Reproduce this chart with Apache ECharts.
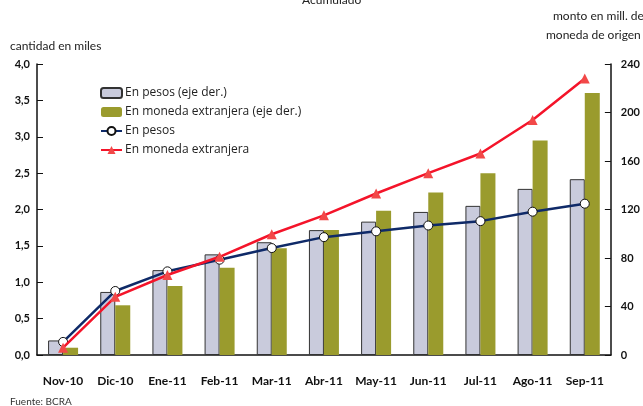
<!DOCTYPE html>
<html>
<head>
<meta charset="utf-8">
<script src="https://cdn.jsdelivr.net/npm/echarts@6/dist/echarts.min.js"></script>
<style>
  html, body { margin: 0; padding: 0; background: #fff; }
  #chart { width: 643px; height: 406px; }
</style>
</head>
<body>
<div id="chart"></div>
<script>
// meses
var categories = ['Nov-10', 'Dic-10', 'Ene-11', 'Feb-11', 'Mar-11', 'Abr-11', 'May-11', 'Jun-11', 'Jul-11', 'Ago-11', 'Sep-11'];

// barras, eje derecho (monto en mill.)
var montoPesos = [12, 52, 70, 83, 93, 103, 110, 118, 123, 137, 145];
var montoExtranjera = [6, 41, 57, 72, 88, 103, 119, 134, 150, 177, 216];

// lineas, eje izquierdo (cantidad en miles)
var cantPesos = [0.18, 0.88, 1.15, 1.31, 1.47, 1.62, 1.70, 1.78, 1.84, 1.97, 2.08];
var cantExtranjera = [0.10, 0.80, 1.10, 1.35, 1.66, 1.92, 2.22, 2.50, 2.77, 3.23, 3.80];

var fontFam = 'Lato, "Open Sans", sans-serif';

var chart = echarts.init(document.getElementById('chart'));

chart.setOption({
    animation: false,
    textStyle: { fontFamily: fontFam },
    graphic: [
        { type: 'text', left: 302, top: -6, style: { text: 'Acumulado', fontSize: 12, fontFamily: fontFam, fill: '#222' } },
        { type: 'text', left: 553, top: 10, style: { text: 'monto en mill. de', fontSize: 12, fontFamily: fontFam, fill: '#222' } },
        { type: 'text', left: 546, top: 29, style: { text: 'moneda de origen', fontSize: 12, fontFamily: fontFam, fill: '#222' } },
        { type: 'text', left: 10, top: 40, style: { text: 'cantidad en miles', fontSize: 12, fontFamily: fontFam, fill: '#222' } },
        { type: 'text', left: 10, top: 397, style: { text: 'Fuente: BCRA', fontSize: 10, fontFamily: fontFam, fill: '#333' } }
    ],
    legend: {
        orient: 'vertical',
        left: 100,
        top: 87,
        padding: 0,
        itemWidth: 21,
        itemHeight: 10,
        itemGap: 7,
        textStyle: { fontSize: 12, lineHeight: 12, color: '#222', fontFamily: '"Open Sans", sans-serif', padding: [0, 0, 0, -2] },
        data: [
            { name: 'En pesos (eje der.)' },
            { name: 'En moneda extranjera (eje der.)' },
            { name: 'En pesos' },
            { name: 'En moneda extranjera' }
        ]
    },
    grid: {
        left: 37,
        right: 30,
        top: 64,
        bottom: 51
    },
    xAxis: {
        type: 'category',
        data: categories,
        axisTick: { show: false },
        axisLine: { lineStyle: { color: '#111', width: 1.5 } },
        axisLabel: {
            interval: 0,
            margin: 20,
            fontSize: 12,
            fontWeight: 'bold',
            color: '#111',
            fontFamily: fontFam
        }
    },
    yAxis: [
        {
            type: 'value',
            min: 0,
            max: 4,
            interval: 0.5,
            splitLine: { show: false },
            axisLine: { show: true, lineStyle: { color: '#111', width: 1.5 } },
            axisTick: { show: true, inside: true, length: 6, lineStyle: { color: '#111' } },
            axisLabel: {
                margin: 7,
                fontSize: 11,
                fontWeight: 'bold',
                color: '#111',
                fontFamily: fontFam,
                formatter: function (v) { return v.toFixed(1).replace('.', ','); }
            }
        },
        {
            type: 'value',
            min: 0,
            max: 240,
            interval: 40,
            position: 'right',
            splitLine: { show: false },
            axisLine: { show: true, lineStyle: { color: '#111', width: 1.5 } },
            axisTick: { show: true, inside: true, length: 6, lineStyle: { color: '#111' } },
            axisLabel: {
                margin: 10,
                fontSize: 11,
                fontWeight: 'bold',
                color: '#111',
                fontFamily: fontFam
            }
        }
    ],
    series: [
        {
            name: 'En pesos (eje der.)',
            type: 'bar',
            yAxisIndex: 1,
            data: montoPesos,
            barWidth: 15,
            barGap: '0%',
            itemStyle: { color: '#c9cbdc', borderColor: '#333', borderWidth: 1 }
        },
        {
            name: 'En moneda extranjera (eje der.)',
            type: 'bar',
            yAxisIndex: 1,
            data: montoExtranjera,
            barWidth: 15,
            barGap: '0%',
            itemStyle: { color: '#9a9b2d' }
        },
        {
            name: 'En pesos',
            type: 'line',
            yAxisIndex: 0,
            data: cantPesos,
            symbol: 'circle',
            symbolSize: 9,
            lineStyle: { color: '#0f2a68', width: 2.5 },
            itemStyle: { color: '#fff', borderColor: '#111', borderWidth: 1 },
            z: 5
        },
        {
            name: 'En moneda extranjera',
            type: 'line',
            yAxisIndex: 0,
            data: cantExtranjera,
            symbol: 'triangle',
            symbolSize: 10,
            lineStyle: { color: '#f4142a', width: 2.5 },
            itemStyle: { color: '#f24848' },
            z: 6
        }
    ]
});

window.addEventListener('resize', function () {
    chart.resize();
});
</script>
</body>
</html>
